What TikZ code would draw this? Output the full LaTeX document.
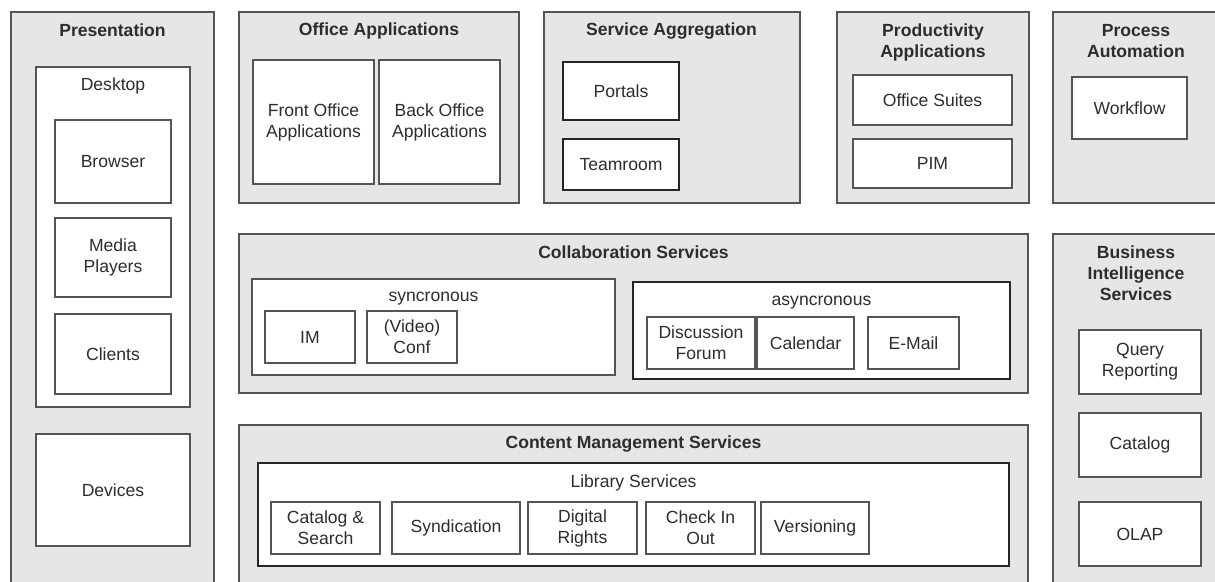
\documentclass[tikz,border=0pt]{standalone}
\usepackage{fontspec}
\setmainfont{Liberation Sans}
\usepackage{tikz}
\usepackage{xcolor}
\definecolor{layerfill}{RGB}{230,230,230}
\definecolor{edgegray}{RGB}{85,85,85}
\definecolor{textgray}{RGB}{45,45,45}

\begin{document}
\begin{tikzpicture}[
  layer/.style={draw=edgegray, line width=0.8pt, fill=layerfill},
  part/.style={draw=edgegray, line width=0.8pt, fill=white, align=center, inner sep=1pt, font=\fontsize{10}{12}\selectfont, text=textgray},
  strong/.style={part, draw=black!85, line width=1.3pt},
  title/.style={align=center, font=\fontsize{10}{12}\selectfont\bfseries, text=textgray},
  caption/.style={font=\fontsize{10}{12}\selectfont, text=textgray}
]
\clip (0,0) rectangle (24.30,-11.62);

% Layers (the ones on the right and bottom run past the page edge)
\node[layer, minimum width=4.06cm, minimum height=11.76cm] (pres) at (2.25,-6.12) {};
\node[layer, minimum width=5.60cm, minimum height=3.82cm] (office) at (7.58,-2.15) {};
\node[layer, minimum width=5.12cm, minimum height=3.82cm] (aggr) at (13.44,-2.15) {};
\node[layer, minimum width=3.84cm, minimum height=3.82cm] (prod) at (18.66,-2.15) {};
\node[layer, minimum width=3.34cm, minimum height=3.82cm] (proc) at (22.73,-2.15) {};
\node[layer, minimum width=15.78cm, minimum height=3.18cm] (collab) at (12.67,-6.27) {};
\node[layer, minimum width=3.34cm, minimum height=7.32cm] (bis) at (22.73,-8.34) {};
\node[layer, minimum width=15.78cm, minimum height=3.50cm] (cms) at (12.67,-10.25) {};

% Layer titles
\node[title] (presT) at (2.25,-0.60) {Presentation};
\node[title] (officeT) at (7.58,-0.62) {Office Applications};
\node[title] (aggrT) at (13.43,-0.62) {Service Aggregation};
\node[title] (prodT) at (18.66,-0.84) {Productivity\\Applications};
\node[title] (procT) at (22.72,-0.82) {Process\\Automation};
\node[title] (collabT) at (12.67,-5.04) {Collaboration Services};
\node[title] (bisT) at (22.72,-5.46) {Business\\Intelligence\\Services};
\node[title] (cmsT) at (12.67,-8.88) {Content Management Services};

% Presentation
\node[part, minimum width=3.08cm, minimum height=6.80cm] (desktop) at (2.26,-4.74) {};
\node[caption] (desktopT) at (2.26,-1.72) {Desktop};
\node[part, minimum width=2.32cm, minimum height=1.66cm] (browser) at (2.26,-3.23) {Browser};
\node[part, minimum width=2.32cm, minimum height=1.58cm] (media) at (2.26,-5.15) {Media\\Players};
\node[part, minimum width=2.32cm, minimum height=1.60cm] (clients) at (2.26,-7.08) {Clients};
\node[part, minimum width=3.08cm, minimum height=2.24cm] (devices) at (2.26,-9.80) {Devices};

% Office Applications
\node[part, minimum width=2.42cm, minimum height=2.48cm] (front) at (6.27,-2.44) {Front Office\\Applications};
\node[part, minimum width=2.42cm, minimum height=2.48cm] (back) at (8.79,-2.44) {Back Office\\Applications};

% Service Aggregation
\node[strong, minimum width=2.32cm, minimum height=1.16cm] (portals) at (12.42,-1.82) {Portals};
\node[strong, minimum width=2.32cm, minimum height=1.02cm] (teamroom) at (12.42,-3.29) {Teamroom};

% Productivity Applications
\node[part, minimum width=3.18cm, minimum height=1.00cm] (suites) at (18.65,-2.00) {Office Suites};
\node[part, minimum width=3.18cm, minimum height=0.98cm] (pim) at (18.65,-3.27) {PIM};

% Process Automation
\node[part, minimum width=2.30cm, minimum height=1.24cm] (workflow) at (22.59,-2.16) {Workflow};

% Collaboration Services
\node[part, minimum width=7.26cm, minimum height=1.92cm] (sync) at (8.67,-6.54) {};
\node[caption] (syncT) at (8.67,-5.98) {syncronous};
\node[part, minimum width=1.80cm, minimum height=1.04cm] (im) at (6.20,-6.74) {IM};
\node[part, minimum width=1.80cm, minimum height=1.04cm] (video) at (8.24,-6.74) {(Video)\\Conf};
\node[strong, minimum width=7.54cm, minimum height=1.94cm] (async) at (16.43,-6.61) {};
\node[caption] (asyncT) at (16.43,-6.06) {asyncronous};
\node[part, minimum width=2.16cm, minimum height=1.04cm] (forum) at (14.02,-6.86) {Discussion\\Forum};
\node[part, minimum width=1.94cm, minimum height=1.04cm] (calendar) at (16.11,-6.86) {Calendar};
\node[part, minimum width=1.82cm, minimum height=1.04cm] (email) at (18.27,-6.86) {E-Mail};

% Business Intelligence Services
\node[part, minimum width=2.44cm, minimum height=1.28cm] (query) at (22.80,-7.24) {Query\\Reporting};
\node[part, minimum width=2.44cm, minimum height=1.28cm] (catalog) at (22.80,-8.90) {Catalog};
\node[part, minimum width=2.44cm, minimum height=1.28cm] (olap) at (22.80,-10.68) {OLAP};

% Content Management Services
\node[strong, minimum width=15.02cm, minimum height=2.06cm] (library) at (12.67,-10.29) {};
\node[caption] (libraryT) at (12.67,-9.66) {Library Services};
\node[part, minimum width=2.18cm, minimum height=1.04cm] (search) at (6.51,-10.56) {Catalog \&\\Search};
\node[part, minimum width=2.56cm, minimum height=1.04cm] (synd) at (9.12,-10.56) {Syndication};
\node[part, minimum width=2.18cm, minimum height=1.04cm] (rights) at (11.65,-10.56) {Digital\\Rights};
\node[part, minimum width=2.18cm, minimum height=1.04cm] (checkin) at (14.01,-10.56) {Check In\\Out};
\node[part, minimum width=2.16cm, minimum height=1.04cm] (versioning) at (16.30,-10.56) {Versioning};
\end{tikzpicture}
\end{document}
